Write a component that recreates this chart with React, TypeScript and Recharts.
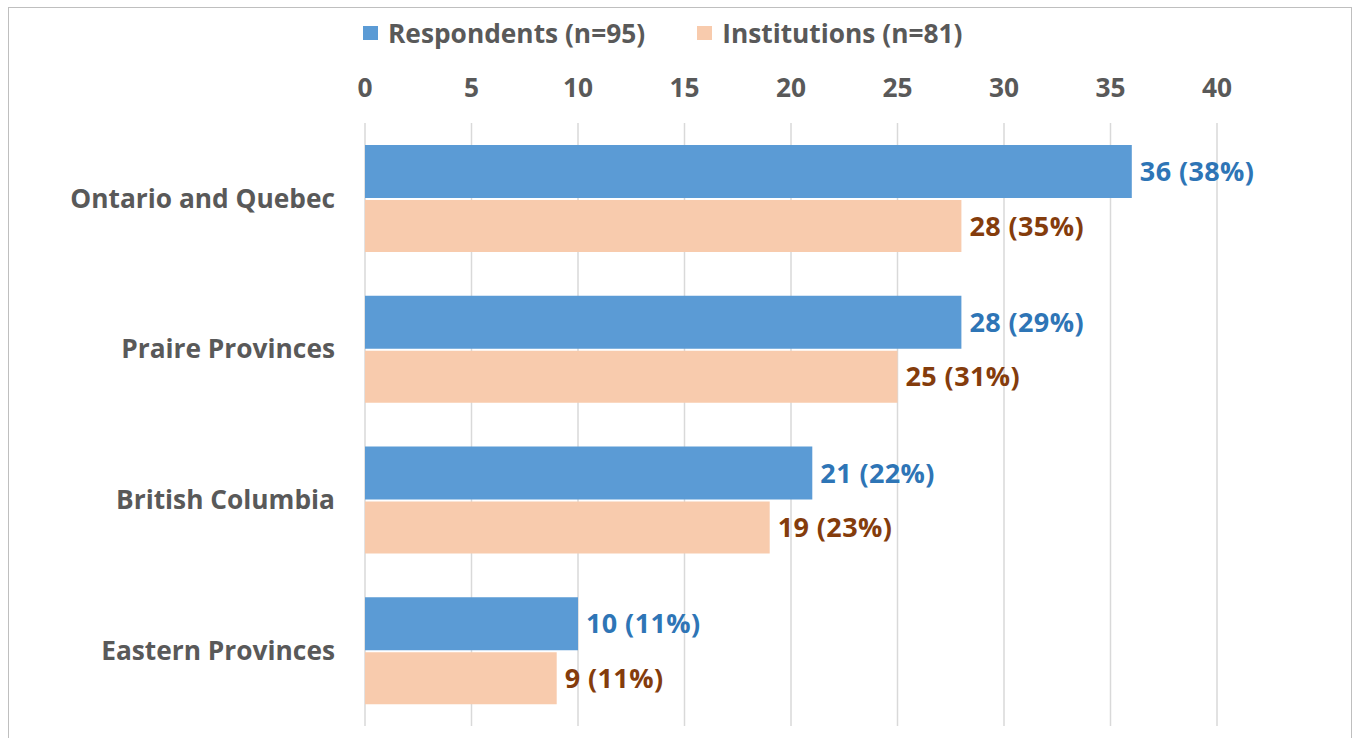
import React from 'react';
import { BarChart, Bar, XAxis, YAxis, CartesianGrid, Legend, LabelList } from 'recharts';

const categories = ['Ontario and Quebec', 'Praire Provinces', 'British Columbia', 'Eastern Provinces'];
const respondents = [36, 28, 21, 10];
const respondentsPct = [38, 29, 22, 11];
const institutions = [28, 25, 19, 9];
const institutionsPct = [35, 31, 23, 11];
const xTicks = [0, 5, 10, 15, 20, 25, 30, 35, 40];
const seriesNames = ['Respondents (n=95)', 'Institutions (n=81)'];

const data = categories.map((c, i) => ({
  name: c,
  resp: respondents[i],
  respLabel: `${respondents[i]} (${respondentsPct[i]}%)`,
  inst: institutions[i],
  instLabel: `${institutions[i]} (${institutionsPct[i]}%)`,
}));

const FONT = '"Open Sans", sans-serif';
const FS = 26.3;
const LFS = 27;
const GRAY = '#595959';
const BLUE = '#5B9BD5';
const PEACH = '#F8CBAD';

const LegendContent = () => (
  <div style={{ display: 'flex', alignItems: 'center', height: 40, fontFamily: FONT, fontWeight: 700, fontSize: FS, color: GRAY, whiteSpace: 'nowrap' }}>
    <span style={{ display: 'inline-block', width: 15, height: 14, background: BLUE, marginRight: 10 }} />
    <span>{seriesNames[0]}</span>
    <span style={{ display: 'inline-block', width: 15, height: 14, background: PEACH, marginLeft: 52, marginRight: 10 }} />
    <span>{seriesNames[1]}</span>
  </div>
);

export default function App() {
  return (
    <div style={{ position: 'absolute', left: 8, top: 7, width: 1342, height: 740, border: '1px solid #bfbfbf', background: '#fff', overflow: 'hidden' }}>
      <style>{'body{overflow:hidden}'}</style>
      <BarChart
        width={1342}
        height={738}
        data={data}
        layout="vertical"
        margin={{ top: 0, right: 134, bottom: 20, left: 0 }}
        barCategoryGap={22}
        barGap={2}
      >
        <CartesianGrid horizontal={false} vertical={true} stroke="#d9d9d9" strokeWidth={1.5} />
        <Legend
          verticalAlign="top"
          content={<LegendContent />}
          wrapperStyle={{ top: 5, left: 354, height: 40, width: 'auto' }}
        />
        <XAxis
          type="number"
          orientation="top"
          domain={[0, 40]}
          ticks={xTicks}
          interval={0}
          axisLine={false}
          tickLine={false}
          tickSize={0}
          tickMargin={26}
          height={75}
          tick={{ fill: GRAY, fontFamily: FONT, fontWeight: 700, fontSize: FS }}
        />
        <YAxis
          type="category"
          dataKey="name"
          width={356}
          axisLine={false}
          tickLine={false}
          tickSize={0}
          tickMargin={30}
          tick={{ fill: GRAY, fontFamily: FONT, fontWeight: 700, fontSize: FS }}
        />
        <Bar dataKey="resp" fill={BLUE} isAnimationActive={false} barSize={53}>
          <LabelList dataKey="respLabel" position="right" offset={8} fill="#2E75B6" fontFamily={FONT} fontWeight={700} fontSize={LFS} letterSpacing={0.4} />
        </Bar>
        <Bar dataKey="inst" fill={PEACH} isAnimationActive={false} barSize={52}>
          <LabelList dataKey="instLabel" position="right" offset={8} fill="#843C0C" fontFamily={FONT} fontWeight={700} fontSize={LFS} letterSpacing={0.4} />
        </Bar>
      </BarChart>
    </div>
  );
}
